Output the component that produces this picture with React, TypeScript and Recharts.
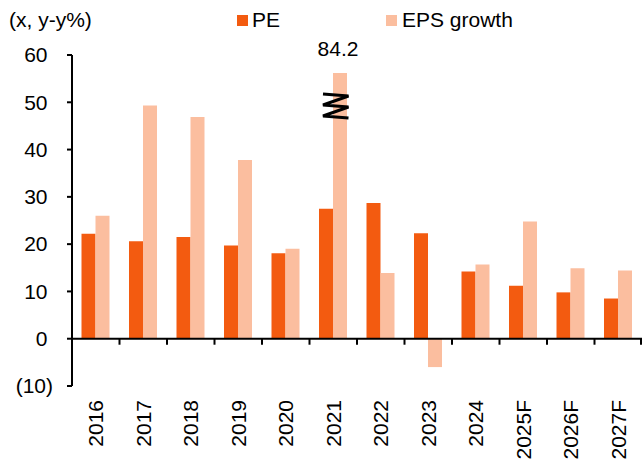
import React from 'react';
import { BarChart, Bar, XAxis, YAxis, ReferenceLine, LabelList, Legend } from 'recharts';

const categories = ['2016', '2017', '2018', '2019', '2020', '2021', '2022', '2023', '2024', '2025F', '2026F', '2027F'];
const pe = [22.2, 20.6, 21.5, 19.7, 18.1, 27.5, 28.7, 22.3, 14.2, 11.2, 9.8, 8.5];
const epsGrowth = [26.0, 49.3, 46.9, 37.8, 19.0, 84.2, 13.9, -6.0, 15.7, 24.8, 14.9, 14.4];
const axisBreakCap = 56.2;
const yTicks = [-10, 0, 10, 20, 30, 40, 50, 60];
const seriesNames = ['PE', 'EPS growth'];
const unitLabel = '(x, y-y%)';

const PE_COLOR = '#F35B10';
const EPS_COLOR = '#FBBE9F';
const FONT = '"Liberation Sans", Arial, sans-serif';
const FS = 21;
const LEGEND_H = 40;

const data = categories.map((c, i) => ({
  year: c,
  pe: pe[i],
  eps: Math.min(epsGrowth[i], axisBreakCap),
  epsActual: epsGrowth[i],
}));

const fmt = (v: number) => (v < 0 ? `(${Math.abs(v)})` : `${v}`);

const YTick = (props: any) => {
  const { x, y, payload } = props;
  const v = payload.value;
  return (
    <text x={v < 0 ? x : x - 5.5} y={y} dy="0.35em" textAnchor="end" fontSize={FS} fontFamily={FONT} fill="#000">
      {fmt(v)}
    </text>
  );
};

const XTick = (props: any) => {
  const { x, y, payload } = props;
  return (
    <text
      x={x}
      y={y}
      transform={`rotate(-90, ${x}, ${y})`}
      dy="0.35em"
      textAnchor="end"
      fontSize={FS}
      fontFamily={FONT}
      fill="#000"
    >
      {payload.value}
    </text>
  );
};

const ZeroAxis = (props: any) => {
  const { x1, y1, x2 } = props;
  const n = categories.length;
  const w = (x2 - x1) / n;
  const ticks = [];
  for (let i = 1; i <= n; i++) {
    const tx = Math.min(x1 + i * w, x2 - 1);
    ticks.push(<line key={i} x1={tx} x2={tx} y1={y1} y2={y1 + 6} stroke="#000" strokeWidth={2} />);
  }
  return (
    <g>
      <line x1={x1} x2={x2} y1={y1} y2={y1} stroke="#000" strokeWidth={2} />
      {ticks}
    </g>
  );
};

const BreakLabel = (props: any) => {
  const vb = props.viewBox || props;
  const x = vb.x ?? props.x;
  const y = vb.y ?? props.y;
  const width = vb.width ?? props.width;
  const value = props.value;
  if (typeof value !== 'number' || value <= axisBreakCap) return null;
  const l = x - 10;
  const r = x + width + 1.5;
  const t = y + 21;
  const d = `M${l},${t} L${r},${t + 2} L${l},${t + 11} L${r},${t + 13} L${l},${t + 22} L${r},${t + 24}`;
  return (
    <g>
      <path d={d} fill="none" stroke="#000" strokeWidth={3} strokeLinejoin="miter" />
      <text x={x + width / 2 - 2} y={y - 17} textAnchor="middle" fontSize={FS} fontFamily={FONT} fill="#000">
        {value.toFixed(1)}
      </text>
    </g>
  );
};

const LegendContent = () => (
  <svg width={642} height={LEGEND_H} style={{ display: 'block' }}>
    <text x={9} y={27} fontSize={FS} fontFamily={FONT} fill="#000">
      {unitLabel}
    </text>
    <rect x={237} y={15} width={11} height={11} fill={PE_COLOR} />
    <text x={252} y={27} fontSize={FS} fontFamily={FONT} fill="#000">
      {seriesNames[0]}
    </text>
    <rect x={386} y={15} width={11} height={11} fill={EPS_COLOR} />
    <text x={402} y={27} fontSize={FS} fontFamily={FONT} fill="#000">
      {seriesNames[1]}
    </text>
  </svg>
);

export default function App() {
  return (
    <div style={{ position: 'absolute', left: 0, top: 0, width: 642, height: 459, background: '#fff' }}>
      <BarChart
        width={642}
        height={459}
        data={data}
        margin={{ top: 55 - LEGEND_H, right: 0, bottom: 0, left: 0 }}
        barGap={0}
        barCategoryGap="20%"
      >
        <Legend
          content={<LegendContent />}
          verticalAlign="top"
          wrapperStyle={{ position: 'absolute', top: 0, left: 0, width: 642, height: LEGEND_H }}
        />
        <YAxis
          width={72}
          domain={[-10, 60]}
          ticks={yTicks}
          interval={0}
          tickSize={5}
          tickMargin={14}
          axisLine={{ stroke: '#000', strokeWidth: 2 }}
          tickLine={{ stroke: '#000', strokeWidth: 2 }}
          tick={<YTick />}
        />
        <XAxis
          dataKey="year"
          height={73}
          axisLine={false}
          tickLine={false}
          tickSize={0}
          tickMargin={14}
          interval={0}
          tick={<XTick />}
        />
        <Bar dataKey="pe" name={seriesNames[0]} fill={PE_COLOR} isAnimationActive={false} />
        <Bar dataKey="eps" name={seriesNames[1]} fill={EPS_COLOR} isAnimationActive={false}>
          <LabelList dataKey="epsActual" content={<BreakLabel />} />
        </Bar>
        <ReferenceLine y={0} shape={<ZeroAxis />} />
      </BarChart>
    </div>
  );
}
